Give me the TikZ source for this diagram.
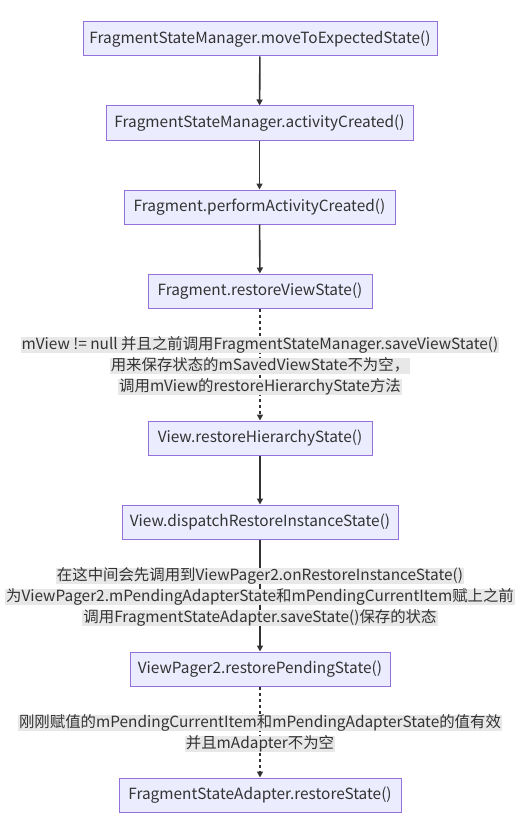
\documentclass[tikz,border=0pt]{standalone}
\usepackage{fontspec}
\setmainfont{Noto Sans CJK SC}
\usetikzlibrary{arrows.meta}
\definecolor{boxfill}{HTML}{ECECFF}
\definecolor{boxline}{HTML}{9370DB}
\definecolor{ink}{HTML}{333333}
\definecolor{lblbg}{HTML}{E8E8E8}
\tikzset{
  stepbox/.style={draw=boxline, fill=boxfill, line width=1pt, minimum height=34pt,
    inner sep=0pt, text=ink, font=\fontsize{15.4}{17}\selectfont},
  lbl/.style={fill=lblbg, inner xsep=1pt, inner ysep=0.5pt, text height=11.5pt, text depth=3.5pt,
    text=ink, font=\fontsize{15.4}{17}\selectfont, anchor=center},
  link/.style={draw=ink, line width=1.6pt, -{Triangle[length=6pt,width=6pt]}},
  dotlink/.style={link, dash pattern=on 3pt off 3pt},
}
\begin{document}
\begin{tikzpicture}[x=1pt,y=-1pt]
\path[use as bounding box] (0,0) rectangle (522,824);
\node[stepbox, minimum width=354pt] (b1) at (260,39) {FragmentStateManager.moveToExpectedState()};
\node[stepbox, minimum width=307pt] (b2) at (259.5,123) {FragmentStateManager.activityCreated()};
\node[stepbox, minimum width=271pt] (b3) at (259.5,207) {Fragment.performActivityCreated()};
\node[stepbox, minimum width=224pt] (b4) at (260,291) {Fragment.restoreViewState()};
\node[stepbox, minimum width=224pt] (b5) at (260,438) {View.restoreHierarchyState()};
\node[stepbox, minimum width=276pt] (b6) at (260,522) {View.dispatchRestoreInstanceState()};
\node[stepbox, minimum width=260pt] (b7) at (260,669) {ViewPager2.restorePendingState()};
\node[stepbox, minimum width=282pt] (b8) at (260,795) {FragmentStateAdapter.restoreState()};

\draw[link] (b1) -- (b2);
\draw[link] (b2) -- (b3);
\draw[link] (b3) -- (b4);
\draw[dotlink] (b4) -- (b5);
\draw[link] (b5) -- (b6);
\draw[link] (b6) -- (b7);
\draw[dotlink] (b7) -- (b8);

\node[lbl] (l1a) at (260,345) {mView != null 并且之前调用FragmentStateManager.saveViewState()};
\node[lbl] (l1b) at (260,366) {用来保存状态的mSavedViewState不为空，};
\node[lbl] (l1c) at (260,387) {调用mView的restoreHierarchyState方法};

\node[lbl] (l2a) at (260,576) {在这中间会先调用到ViewPager2.onRestoreInstanceState()};
\node[lbl] (l2b) at (260,597) {为ViewPager2.mPendingAdapterState和mPendingCurrentItem赋上之前};
\node[lbl] (l2c) at (260,618) {调用FragmentStateAdapter.saveState()保存的状态};

\node[lbl] (l3a) at (260,723) {刚刚赋值的mPendingCurrentItem和mPendingAdapterState的值有效};
\node[lbl] (l3b) at (260,744) {并且mAdapter不为空};
\end{tikzpicture}
\end{document}
